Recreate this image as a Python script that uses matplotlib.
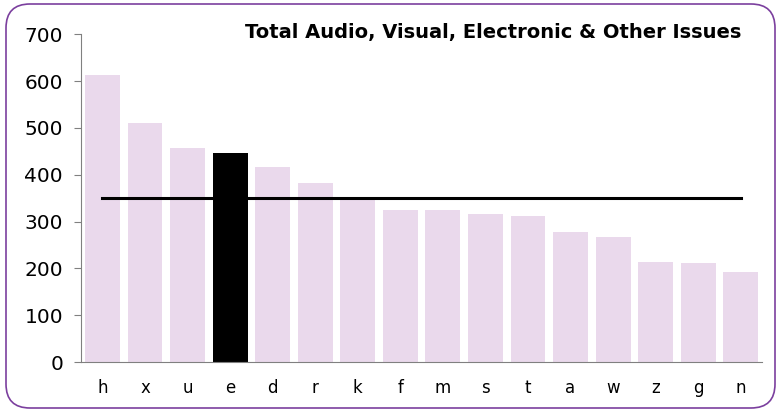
import matplotlib
matplotlib.use("Agg")
import matplotlib.pyplot as plt
from matplotlib.patches import FancyBboxPatch
from matplotlib.transforms import IdentityTransform

# donnees
categories = ["h", "x", "u", "e", "d", "r", "k", "f", "m", "s", "t", "a", "w", "z", "g", "n"]
valeurs = [612, 510, 457, 446, 416, 382, 351, 324, 324, 316, 313, 277, 267, 213, 211, 192]
moyenne = [350] * len(categories)
mis_en_avant = "e"

couleurs = ["black" if c == mis_en_avant else "#EAD9EC" for c in categories]

fig = plt.figure(figsize=(7.8, 4.12), dpi=100)
ax = fig.add_axes([0.104, 0.121, 0.873, 0.796])

x = list(range(len(categories)))
ax.bar(x, valeurs, width=0.82, color=couleurs, zorder=2)
ax.plot(x, moyenne, color="black", linewidth=2.2, zorder=3)

ax.set_xlim(-0.5, len(categories) - 0.5)
ax.set_ylim(0, 700)
ax.set_yticks(range(0, 701, 100))
ax.set_xticks(x)
ax.set_xticklabels(categories)

for cote in ["top", "right"]:
    ax.spines[cote].set_visible(False)
ax.spines["left"].set_color("#808080")
ax.spines["bottom"].set_color("#808080")
ax.tick_params(axis="y", labelsize=14.5, colors="#808080", labelcolor="black", length=5, pad=8)
ax.tick_params(axis="x", labelsize=12, length=0, pad=12)

ax.text(0.969, 1.005, "Total Audio, Visual, Electronic & Other Issues", transform=ax.transAxes,
        ha="right", va="center", fontsize=14, fontweight="bold")

# cadre arrondi violet
cadre = FancyBboxPatch((6, 4), 769, 404, boxstyle="round,pad=0,rounding_size=24",
                       transform=IdentityTransform(), facecolor="none",
                       edgecolor="#7B3F9E", linewidth=1.2)
fig.add_artist(cadre)

fig.savefig("out.png", dpi=100)
